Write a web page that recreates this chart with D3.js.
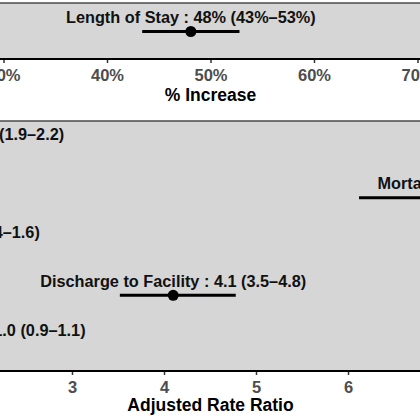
<!DOCTYPE html>
<html>
<head>
<meta charset="utf-8">
<script src="https://cdn.jsdelivr.net/npm/d3@7"></script>
<style>
  html, body { margin: 0; padding: 0; background: #fff; }
  svg { display: block; overflow: hidden; }
  text { font-family: "Liberation Sans", Arial, sans-serif; font-weight: bold; }
</style>
</head>
<body>
<svg id="chart" width="420" height="420"></svg>
<script>
// ---- data: top panel (% increase) ----
const topCategories = ['Length of Stay'];
const topEstimate = [0.481];
const topLower = [0.434];
const topUpper = [0.528];
const topLabels = ['Length of Stay : 48% (43%\u201353%)'];
const topTicks = [0.3, 0.4, 0.5, 0.6, 0.7];

// ---- data: bottom panel (adjusted rate ratio), top to bottom ----
const rrCategories = ['Delirium', 'Mortality', 'Complications', 'Discharge to Facility', '30-Day Emergency Department Visits'];
const rrEstimate = [1.98, 7.27, 1.46, 4.1, 1.0];
const rrLower = [1.9, 6.12, 1.4, 3.52, 0.9];
const rrUpper = [2.2, 8.6, 1.6, 4.78, 1.1];
const rrLabels = [
  'Delirium : 2.0 (1.9\u20132.2)',
  'Mortality : 7.3 (6.1\u20138.6)',
  'Complications : 1.5 (1.4\u20131.6)',
  'Discharge to Facility : 4.1 (3.5\u20134.8)',
  '30-Day Emergency Department Visits : 1.0 (0.9\u20131.1)'
];
const rrTicks = [2, 3, 4, 5, 6, 7];

const W = 420;
const svg = d3.select('#chart');

function drawPanel(opts) {
  const g = svg.append('g');
  const { top, bottom, x, y, cats, est, lo, hi, labels, ticks, fmt, title, titleY } = opts;

  g.append('rect')
    .attr('x', 0).attr('y', top)
    .attr('width', W).attr('height', bottom - top)
    .attr('fill', '#d6d6d6');

  g.append('line')
    .attr('x1', 0).attr('x2', W)
    .attr('y1', top).attr('y2', top)
    .attr('stroke', '#4a4a4a').attr('stroke-width', 1.5);

  const rows = cats.map((c, i) => ({ cat: c, est: est[i], lo: lo[i], hi: hi[i], label: labels[i] }));

  // error bars
  g.selectAll('line.ci').data(rows).enter().append('line')
    .attr('class', 'ci')
    .attr('x1', d => x(d.lo)).attr('x2', d => x(d.hi))
    .attr('y1', d => y(d.cat)).attr('y2', d => y(d.cat))
    .attr('stroke', '#000').attr('stroke-width', 3);

  // points
  g.selectAll('circle.pt').data(rows).enter().append('circle')
    .attr('class', 'pt')
    .attr('cx', d => x(d.est)).attr('cy', d => y(d.cat))
    .attr('r', 5.5).attr('fill', '#000');

  // labels, centred on the estimate
  g.selectAll('text.lbl').data(rows).enter().append('text')
    .attr('class', 'lbl')
    .attr('x', d => x(d.est)).attr('y', d => y(d.cat) - 8.5)
    .attr('text-anchor', 'middle')
    .attr('font-size', '16.3px')
    .attr('fill', '#111')
    .text(d => d.label);

  // x axis
  const axis = d3.axisBottom(x).tickValues(ticks).tickFormat(fmt)
    .tickSize(4).tickPadding(6).tickSizeOuter(0);
  const ax = g.append('g').attr('transform', `translate(0,${bottom})`).call(axis);
  ax.select('.domain').remove();
  ax.selectAll('.tick line').attr('stroke', '#333').attr('stroke-width', 1.5);
  ax.selectAll('.tick text')
    .attr('fill', '#4d4d4d')
    .attr('font-size', '16.5px')
    .attr('font-family', '"Liberation Sans", Arial, sans-serif')
    .attr('font-weight', 'bold');
  g.append('line')
    .attr('x1', 0).attr('x2', W)
    .attr('y1', bottom).attr('y2', bottom)
    .attr('stroke', '#000').attr('stroke-width', 2);

  g.append('text')
    .attr('x', 210.5).attr('y', titleY)
    .attr('text-anchor', 'middle')
    .attr('font-size', '17.5px')
    .attr('fill', '#000')
    .text(title);
}

// top panel
const xTop = d3.scaleLinear().domain([0.3, 0.7]).range([3.5, 417.5]);
const yTop = d3.scalePoint().domain(topCategories).range([4, 59]).padding(0.5);
drawPanel({
  top: 3, bottom: 59, x: xTop, y: yTop,
  cats: topCategories, est: topEstimate, lo: topLower, hi: topUpper, labels: topLabels,
  ticks: topTicks, fmt: d3.format('.0%'), title: '% Increase', titleY: 101
});

// bottom panel
const xRR = d3.scaleLinear().domain([3, 6]).range([72, 348]);
const yRR = d3.scalePoint().domain(rrCategories).range([122, 371]).padding(0.55);
drawPanel({
  top: 121, bottom: 371, x: xRR, y: yRR,
  cats: rrCategories, est: rrEstimate, lo: rrLower, hi: rrUpper, labels: rrLabels,
  ticks: rrTicks, fmt: d3.format('d'), title: 'Adjusted Rate Ratio', titleY: 411
});
</script>
</body>
</html>
